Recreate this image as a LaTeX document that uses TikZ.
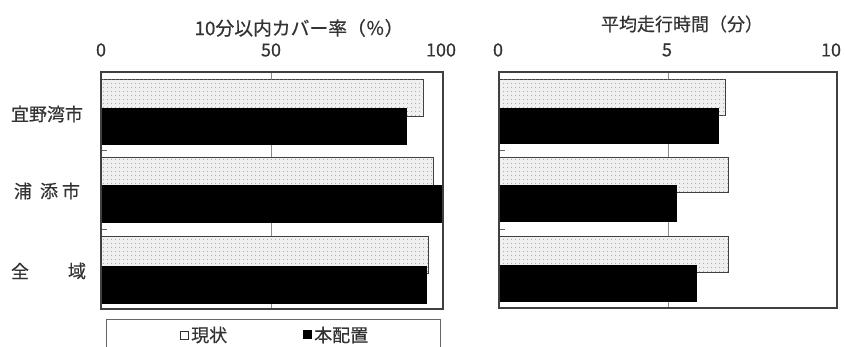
\documentclass[tikz,border=0pt]{standalone}
\usepackage{fontspec}
\setmainfont{Noto Sans CJK JP}
\newfontfamily\medfont{Noto Sans CJK JP}[FakeBold=0.4]
\usetikzlibrary{patterns.meta}
\begin{document}
\begin{tikzpicture}[x=1pt,y=-1pt,
  frameline/.style={draw=black!75, line width=1.3pt},
  gridline/.style={draw=black!45, line width=0.8pt},
  tickline/.style={draw=black!60, line width=0.8pt},
  curbar/.style={draw=black!75, line width=1pt, fill=black!6,
     postaction={pattern={Dots[distance=4pt,radius=0.6pt]}, pattern color=black!45}},
  newbar/.style={fill=black, draw=black, line width=0.6pt},
  lbl/.style={font=\fontsize{18}{21}\selectfont\medfont, text=black!80, inner sep=0pt, anchor=center},
  legbox/.style={draw=black!60, line width=1pt}
]
\useasboundingbox (0,0) rectangle (845,347);
\fill[white] (0,0) rectangle (845,347);

% ---------- left chart ----------
\draw[gridline] (271,72) -- (271,309);
% bars
\draw[curbar] (101,80) rectangle (423,117);
\draw[newbar] (101,108) rectangle (406,144);
\draw[curbar] (101,158) rectangle (433,196);
\draw[newbar] (101,185) rectangle (443,222);
\draw[curbar] (101,237) rectangle (428,273);
\draw[newbar] (101,266) rectangle (426,303);
\draw[tickline] (101,150) -- (107,150);
\draw[tickline] (101,229) -- (107,229);
\draw[frameline] (101,72) rectangle (443,309);

\node[lbl, font=\fontsize{18.8}{21}\selectfont\medfont] (lt) at (299,28) {10分以内カバー率（％）};
\node[lbl] (l0) at (101,50) {0};
\node[lbl] (l50) at (271,50) {50};
\node[lbl] (l100) at (441,50) {100};

\node[lbl] (c1) at (47,114) {宜野湾市};
\node[lbl] (c2a) at (23,191) {浦};
\node[lbl] (c2b) at (49,191) {添};
\node[lbl] (c2c) at (71,191) {市};
\node[lbl] (c3a) at (20,271) {全};
\node[lbl] (c3b) at (77,271) {域};

% legend
\draw[legbox] (106,350) -- (106,319) -- (440,319) -- (440,350);
\draw[draw=black!80, line width=1pt, fill=white] (180,331) rectangle (188,339);
\node[lbl, anchor=west] (lg1) at (191,335) {現状};
\fill[black] (303,330) rectangle (312,339);
\node[lbl, anchor=west] (lg2) at (314,335) {本配置};

% ---------- right chart ----------
\draw[gridline] (668,72) -- (668,308);
\draw[curbar] (499,80) rectangle (725,116);
\draw[newbar] (499,108) rectangle (718,143);
\draw[curbar] (499,158) rectangle (728,193);
\draw[newbar] (499,185) rectangle (676,221);
\draw[curbar] (499,237) rectangle (728,272);
\draw[newbar] (499,265) rectangle (696,301);
\draw[tickline] (499,150) -- (505,150);
\draw[tickline] (499,229) -- (505,229);
\draw[frameline] (499,72) rectangle (837,308);

\node[lbl] (rt) at (682,24) {平均走行時間（分）};
\node[lbl] (r0) at (498,50) {0};
\node[lbl] (r5) at (667,50) {5};
\node[lbl] (r10) at (831,50) {10};
\end{tikzpicture}
\end{document}
